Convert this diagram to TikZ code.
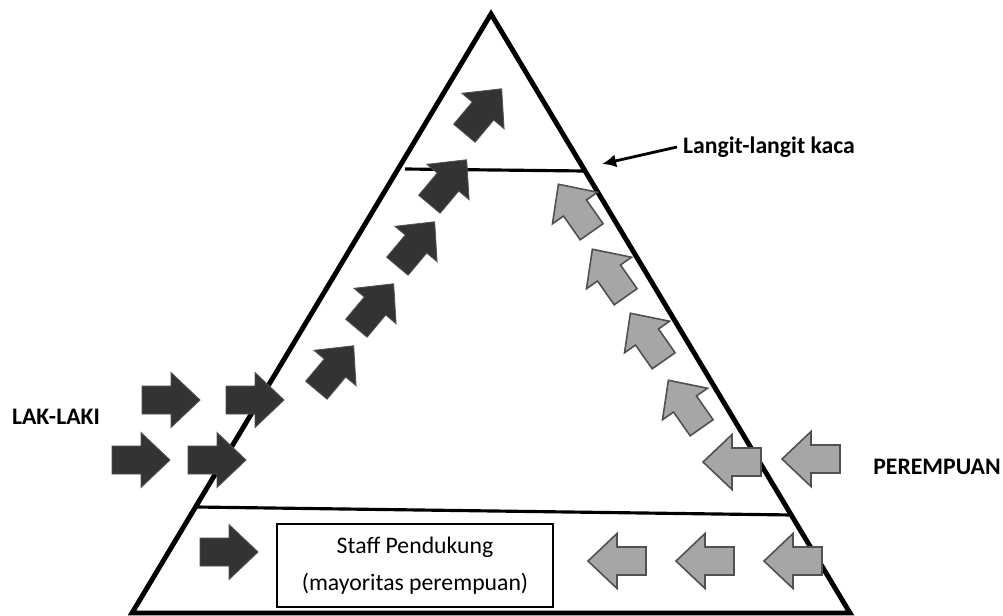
\documentclass[tikz,border=0pt]{standalone}
\usepackage{fontspec}
\setmainfont{Carlito}
\usetikzlibrary{arrows.meta}
\definecolor{gelap}{HTML}{333333}
\definecolor{abu}{HTML}{A6A6A6}
\definecolor{tepi}{HTML}{505050}

\begin{document}
\begin{tikzpicture}[>={Latex[length=8pt,width=7.5pt]},x=0.02cm,y=-0.02cm,
	panah/.pic={\path[pic actions] (-29,-14) -- (0,-14) -- (0,-27.5) -- (29,0)
		-- (0,27.5) -- (0,14) -- (-29,14) -- cycle;},
	laki/.style={fill=gelap,draw=gelap!85!white,line width=0.5pt},
	puan/.style={fill=abu,draw=tepi,line width=0.9pt},
	tulisan/.style={font=\bfseries\fontsize{13.5}{16}\selectfont}]
\useasboundingbox (0,0) rectangle (1003,615);

	\coordinate (puncak) at (491,14);
	\coordinate (kiri) at (132,613);
	\coordinate (kanan) at (850,613);
	\draw[line width=2.8pt] (puncak) -- (kanan) -- (kiri) -- cycle;
	\draw[line width=1.8pt] (405,169) -- (584,171);
	\draw[line width=1.8pt] (196,507) -- (792,515);

	\node[draw,line width=1.1pt,minimum width=5.52cm,minimum height=1.66cm,
		align=center,font=\fontsize{13.5}{16}\selectfont]
		(kotak) at (415,565.5) {Staff Pendukung\\[5pt](mayoritas perempuan)};

	\foreach \x/\y in {171/400,255/400,141/460,217/460,229/552}{
		\pic[laki] at (\x,\y) {panah};
	}
	\foreach \x/\y in {335/368,375/306,416/244,448/182,483/111}{
		\pic[laki,rotate=50] at (\x,\y) {panah};
	}
	\foreach \x/\y in {732/462,811/459,617/561,705/561,793/561}{
		\pic[puan,rotate=180] at (\x,\y) {panah};
	}
	\foreach \x/\y in {575/208,609/273,647/337,685/404}{
		\pic[puan,rotate=125] at (\x,\y) {panah};
	}

	\node[tulisan] (lakilaki) at (56,417) {LAK-LAKI};
	\node[tulisan] (perempuan) at (937,467) {PEREMPUAN};
	\node[tulisan] (langit) at (769,147) {Langit-langit kaca};
	\coordinate (kaca) at (602,164);
	\draw[->,line width=1.6pt] (langit.west) -- (kaca);

\end{tikzpicture}
\end{document}
